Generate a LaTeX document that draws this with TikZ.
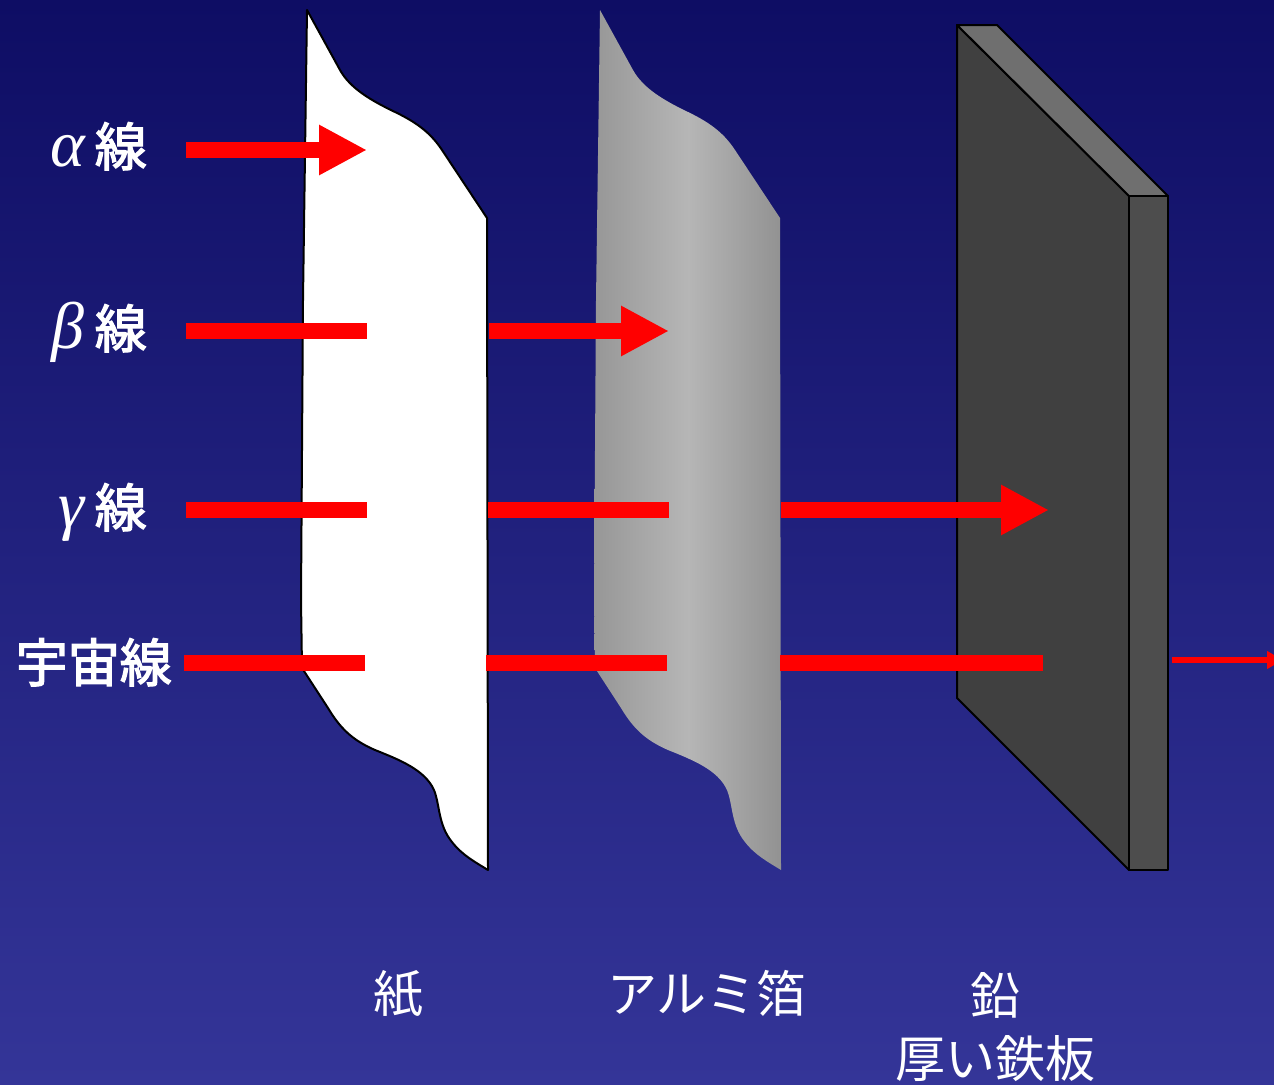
\documentclass[tikz,border=0pt]{standalone}
\usepackage{fontspec}
\newfontfamily\jpfont{Noto Sans CJK JP}
\newfontfamily\jpheavy[FakeBold=2.5]{Noto Sans CJK JP}
\newfontfamily\greekfont{Liberation Serif}
\usetikzlibrary{arrows.meta}

\definecolor{bgtop}{RGB}{14,13,100}
\definecolor{bgbot}{RGB}{52,53,152}
\definecolor{foilL}{RGB}{150,150,150}
\definecolor{foilM}{RGB}{182,182,182}
\definecolor{foilR}{RGB}{145,145,145}
\definecolor{leadfront}{RGB}{64,64,64}
\definecolor{leadtop}{RGB}{111,111,111}
\definecolor{leadside}{RGB}{77,77,77}
\definecolor{ray}{RGB}{255,0,0}

\newcommand{\gk}[1]{{\greekfont\itshape\fontsize{66}{72}\selectfont #1}\hspace{10pt}}

\tikzset{
  beam/.style={draw=ray, line width=16pt},
  beamhead/.style={beam, -{Triangle[length=48pt,width=47pt]}},
  thinbeam/.style={draw=ray, line width=5.5pt, -{Triangle[length=16pt,width=17pt]}},
  sidelabel/.style={text=white, inner sep=0pt, anchor=base east,
    font=\jpheavy\fontsize{52}{60}\selectfont},
  matlabel/.style={text=white, inner sep=0pt, anchor=base,
    font=\jpfont\fontsize{50}{60}\selectfont}
}

\begin{document}
\begin{tikzpicture}[x=1pt, y=-1pt]
  \useasboundingbox (0,0) rectangle (1274,1084);
  \clip (0,0) rectangle (1274,1084);
  \shade[top color=bgtop, bottom color=bgbot] (0,0) rectangle (1274,1084);

  % paper sheet
  \filldraw[fill=white, draw=black, line width=2pt, line join=round]
    (307,10) -- (340,70)
      .. controls (350,88) and (370,100) .. (395,112)
      .. controls (420,124) and (432,135) .. (442,150)
      -- (487,218) -- (488,870)
      .. controls (475,862) and (462,855) .. (452,842)
      .. controls (438,825) and (440,805) .. (434,790)
      .. controls (425,770) and (400,760) .. (375,750)
      .. controls (352,740) and (340,728) .. (328,708)
      -- (302,668) -- (301,600) -- (303,300) -- cycle;

  % aluminium foil: same outline, shifted right, with a sheen across it
  \begin{scope}[xshift=293pt]
    \clip
      (307,10) -- (340,70)
        .. controls (350,88) and (370,100) .. (395,112)
        .. controls (420,124) and (432,135) .. (442,150)
        -- (487,218) -- (488,870)
        .. controls (475,862) and (462,855) .. (452,842)
        .. controls (438,825) and (440,805) .. (434,790)
        .. controls (425,770) and (400,760) .. (375,750)
        .. controls (352,740) and (340,728) .. (328,708)
        -- (302,668) -- (301,600) -- (303,300) -- cycle;
    \shade[left color=foilL, right color=foilM] (299,0) rectangle (395.5,880);
    \shade[left color=foilM, right color=foilR] (395,0) rectangle (490,880);
  \end{scope}

  % lead slab
  \begin{scope}[draw=black, line width=2pt, line join=round]
    \filldraw[fill=leadfront] (957,25) -- (1129,196) -- (1129,870) -- (957,698) -- cycle;
    \filldraw[fill=leadtop] (957,25) -- (997,25) -- (1168,196) -- (1129,196) -- cycle;
    \filldraw[fill=leadside] (1129,196) -- (1168,196) -- (1168,870) -- (1129,870) -- cycle;
  \end{scope}

  % beam end points
  \coordinate (a0) at (186,150);  \coordinate (a1) at (367,150);
  \coordinate (b0) at (186,331);  \coordinate (b1) at (367,331);
  \coordinate (b2) at (489,331);  \coordinate (b3) at (669,331);
  \coordinate (g0) at (186,510);  \coordinate (g1) at (367,510);
  \coordinate (g2) at (488,510);  \coordinate (g3) at (669,510);
  \coordinate (g4) at (781,510);  \coordinate (g5) at (1049,510);
  \coordinate (c0) at (184,663);  \coordinate (c1) at (365,663);
  \coordinate (c2) at (486,663);  \coordinate (c3) at (667,663);
  \coordinate (c4) at (780,663);  \coordinate (c5) at (1043,663);
  \coordinate (c6) at (1172,660); \coordinate (c7) at (1283,660);

  % alpha rays
  \draw[beamhead] (a0) -- (a1);
  % beta rays
  \draw[beam] (b0) -- (b1);
  \draw[beamhead] (b2) -- (b3);
  % gamma rays
  \draw[beam] (g0) -- (g1);
  \draw[beam] (g2) -- (g3);
  \draw[beamhead] (g4) -- (g5);
  % cosmic rays
  \draw[beam] (c0) -- (c1);
  \draw[beam] (c2) -- (c3);
  \draw[beam] (c4) -- (c5);
  \draw[thinbeam] (c6) -- (c7);

  % ray labels
  \node[sidelabel] (la) at (147,166) {\gk{α}線};
  \node[sidelabel] (lb) at (147,348) {\gk{β}線};
  \node[sidelabel] (lg) at (147,527) {\gk{γ}線};
  \node[sidelabel] (lc) at (172,682) {宇宙線};

  % material labels
  \node[matlabel] (mp) at (398,1012) {紙};
  \node[matlabel] (mf) at (707,1012) {アルミ箔};
  \node[matlabel] (ml) at (995,1014) {鉛};
  \node[matlabel] (mi) at (995,1077) {厚い鉄板};
\end{tikzpicture}
\end{document}
